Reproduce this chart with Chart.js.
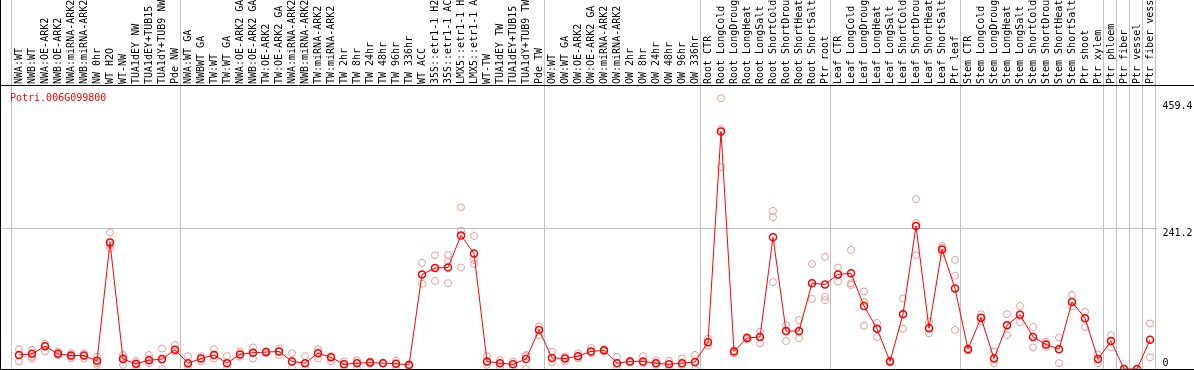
<!DOCTYPE html>
<html>
<head>
<meta charset="utf-8">
<script src="https://cdn.jsdelivr.net/npm/chart.js@4"></script>
<style>
  body { margin: 0; background: #fff; }
</style>
</head>
<body>
<canvas id="expr-chart" width="1194" height="370"></canvas>
<script>
const geneName = "Potri.006G099800";

const labels = [
	"NWA:WT", "NWB:WT", "NWA:OE-ARK2", "NWB:OE-ARK2", "NWA:miRNA-ARK2", "NWB:miRNA-ARK2",
	"NW 0hr", "WT H2O", "WT-NW", "TUA1dEY NW", "TUA1dEY+TUB15 NW", "TUA1dY+TUB9 NW", "Pde NW",
	"NWA:WT GA", "NWBWT GA", "TW:WT", "TW:WT GA", "NWA:OE-ARK2 GA", "NWB:OE-ARK2 GA",
	"TW:OE-ARK2", "TW:OE-ARK2 GA", "NWA:miRNA-ARK2", "NWB:miRNA-ARK2", "TW:miRNA-ARK2",
	"TW:miRNA-ARK2", "TW 2hr", "TW 8hr", "TW 24hr", "TW 48hr", "TW 96hr", "TW 336hr",
	"WT ACC", "35S::etr1-1 H2O", "35S::etr1-1 ACC", "LMX5::etr1-1 H2O", "LMX5::etr1-1 ACC",
	"WT-TW", "TUA1dEY TW", "TUA1dEY+TUB15 TW", "TUA1dY+TUB9 TW", "Pde TW",
	"OW:WT", "OW:WT GA", "OW:OE-ARK2", "OW:OE-ARK2 GA", "OW:miRNA-ARK2", "OW:miRNA-ARK2",
	"OW 2hr", "OW 8hr", "OW 24hr", "OW 48hr", "OW 96hr", "OW 336hr",
	"Root CTR", "Root LongCold", "Root LongDrought", "Root LongHeat", "Root LongSalt",
	"Root ShortCold", "Root ShortDrought", "Root ShortHeat", "Root ShortSalt", "Ptr root",
	"Leaf CTR", "Leaf LongCold", "Leaf LongDrought", "Leaf LongHeat", "Leaf LongSalt",
	"Leaf ShortCold", "Leaf ShortDrought", "Leaf ShortHeat", "Leaf ShortSalt", "Ptr leaf",
	"Stem CTR", "Stem LongCold", "Stem LongDrought", "Stem LongHeat", "Stem LongSalt",
	"Stem ShortCold", "Stem ShortDrought", "Stem ShortHeat", "Stem ShortSalt", "Ptr shoot",
	"Ptr xylem", "Ptr phloem", "Ptr fiber", "Ptr vessel", "Ptr fiber vessel"
];

// mean expression per sample
const meanValues = [
	24, 26, 39, 26, 23, 23, 14, 217, 17, 9, 15, 17, 33,
	10, 18, 24, 10, 25, 28, 29, 30, 13, 10, 27, 20, 8, 10, 11, 10, 9, 7,
	162, 173, 174, 229, 198, 13, 10, 8, 17, 67,
	19, 18, 22, 30, 32, 10, 13, 13, 10, 8, 10, 12,
	46, 407, 30, 53, 55, 226, 65, 65, 147, 145,
	162, 164, 108, 69, 13, 94, 245, 70, 205, 138,
	34, 88, 18, 75, 93, 55, 42, 34, 115, 87, 17,
	48, 0, 0, 50
];

// individual replicates
const rep1 = [
	34, 33, 43, 30, 27, 27, 21, 234, 24, 14, 24, 35, 41,
	22, 22, 34, 22, 30, 37, 30, 35, 27, 22, 34, 22, 13, 15, 13, 11, 14, 8,
	182, 195, 195, 277, 228, 22, 15, 13, 24, 73,
	30, 21, 27, 36, 34, 21, 14, 22, 15, 14, 18, 24,
	52, 464, 32, 55, 64, 271, 75, 84, 180, 192,
	174, 204, 133, 79, 15, 121, 291, 81, 211, 187,
	36, 94, 30, 94, 108, 72, 47, 54, 127, 98, 25,
	58, 0, 0, 78
];
const rep2 = [
	24, 21, 39, 27, 21, 22, 10, 213, 20, 7, 18, 15, 33,
	8, 18, 24, 10, 25, 28, 29, 30, 13, 10, 27, 20, 8, 10, 11, 10, 9, 7,
	162, 173, 184, 237, 187, 13, 10, 8, 22, 67,
	19, 18, 22, 30, 32, 10, 13, 13, 10, 8, 10, 11,
	46, 411, 30, 53, 55, 260, 65, 64, 147, 124,
	162, 147, 115, 69, 13, 94, 250, 70, 208, 160,
	33, 88, 18, 75, 93, 55, 42, 34, 115, 87, 17,
	48, 0, 0, 50
];
const rep3 = [
	13, 18, 30, 24, 18, 18, 7, 207, 7, 1, 10, 0, 30,
	1, 13, 18, 1, 21, 18, 27, 24, 1, 1, 18, 13, 4, 1, 9, 10, 4, 6,
	146, 151, 147, 174, 180, 7, 3, 1, 0, 58,
	11, 13, 18, 27, 30, 4, 11, 10, 7, 0, 7, 0,
	40, 346, 27, 51, 44, 149, 48, 53, 120, 118,
	150, 144, 74, 55, 11, 69, 195, 61, 199, 67,
	32, 81, 10, 58, 80, 37, 38, 10, 107, 72, 10,
	37, 0, 0, 20
];

const yTicks = [0, 241.2, 459.4];
const yMax = 485;
const gridValue = 241.2;
// index where each sample group starts (last entry closes the table)
const groupBreaks = [0, 13, 41, 53, 63, 73, 84, 85, 86, 87, 88];

const monoFont = "'DejaVu Sans Mono', monospace";

const framePlugin = {
	id: "frame",
	beforeDraw(chart) {
		const { ctx, width, height } = chart;
		const x = chart.scales.x;
		const y = chart.scales.y;
		const step = x.getPixelForValue(1) - x.getPixelForValue(0);
		const lastX = Math.round(x.getPixelForValue(88) - step / 2) + 0.5;
		ctx.save();
		ctx.strokeStyle = "#c0c0c0";
		ctx.lineWidth = 1;
		ctx.beginPath();
		groupBreaks.forEach((i) => {
			const px = Math.round(x.getPixelForValue(i) - step / 2) - 1.5;
			ctx.moveTo(px, 0);
			ctx.lineTo(px, height);
		});
		const py = Math.round(y.getPixelForValue(gridValue)) + 0.5;
		ctx.moveTo(0, py);
		ctx.lineTo(lastX, py);
		ctx.stroke();
		ctx.restore();
	},
	afterDraw(chart) {
		const { ctx, width, height } = chart;
		const top = chart.chartArea.top;
		ctx.save();
		ctx.strokeStyle = "#000";
		ctx.lineWidth = 1;
		ctx.beginPath();
		ctx.moveTo(0, top - 0.5);
		ctx.lineTo(width, top - 0.5);
		ctx.moveTo(0.5, 0);
		ctx.lineTo(0.5, height);
		ctx.moveTo(0, height - 0.5);
		ctx.lineTo(width, height - 0.5);
		ctx.stroke();
		ctx.fillStyle = "#ff0000";
		ctx.font = "10px " + monoFont;
		ctx.textBaseline = "middle";
		ctx.fillText(geneName, 10, top + 12);
		ctx.restore();
	},
};

const ctx = document.getElementById("expr-chart").getContext("2d");
const myChart = new Chart(ctx, {
	type: "line",
	data: {
		labels: labels,
		datasets: [
			{
				label: "Mean",
				data: meanValues,
				borderColor: "#ff0000",
				borderWidth: 1,
				pointStyle: "circle",
				pointRadius: 3.5,
				pointBorderWidth: 1.5,
				pointBorderColor: "#ff0000",
				pointBackgroundColor: "rgba(0,0,0,0)",
				tension: 0,
				clip: false,
			},
			{
				label: "Rep 1",
				data: rep1,
				showLine: false,
				pointRadius: 3.5,
				pointBorderWidth: 1,
				pointBorderColor: "#eb9a9a",
				pointBackgroundColor: "rgba(0,0,0,0)",
				clip: false,
			},
			{
				label: "Rep 2",
				data: rep2,
				showLine: false,
				pointRadius: 3.5,
				pointBorderWidth: 1,
				pointBorderColor: "#eb9a9a",
				pointBackgroundColor: "rgba(0,0,0,0)",
				clip: false,
			},
			{
				label: "Rep 3",
				data: rep3,
				showLine: false,
				pointRadius: 3.5,
				pointBorderWidth: 1,
				pointBorderColor: "#eb9a9a",
				pointBackgroundColor: "rgba(0,0,0,0)",
				clip: false,
			},
		],
	},
	options: {
		responsive: false,
		animation: false,
		devicePixelRatio: 1,
		layout: {
			autoPadding: false,
			padding: {
				left: 12.5,
				right: 0,
				top: 0,
				bottom: 1,
			},
		},
		scales: {
			x: {
				position: "top",
				offset: true,
				grid: { display: false, drawTicks: false },
				border: { display: false },
				ticks: {
					autoSkip: false,
					minRotation: 90,
					maxRotation: 90,
					padding: 2,
					labelOffset: 12,
					color: "#000",
					font: { family: monoFont, size: 10 },
				},
				afterFit: (scale) => {
					scale.height = 86;
					scale.paddingLeft = 0;
					scale.paddingRight = 0;
				},
			},
			y: {
				position: "right",
				min: 0,
				max: yMax,
				grid: { display: false, drawTicks: false },
				border: { display: false },
				afterBuildTicks: (scale) => {
					scale.ticks = yTicks.map((v) => ({ value: v }));
				},
				ticks: {
					padding: 6,
					color: "#000",
					font: { family: monoFont, size: 10, lineHeight: 1.1 },
					callback: (v) => (v === 0 ? ["0", ""] : ["", String(v)]),
				},
				afterFit: (scale) => {
					scale.width = 37.5;
					scale.paddingTop = 0;
					scale.paddingBottom = 0;
				},
			},
		},
		plugins: {
			legend: { display: false },
			tooltip: { enabled: false },
		},
	},
	plugins: [framePlugin],
});
</script>
</body>
</html>
